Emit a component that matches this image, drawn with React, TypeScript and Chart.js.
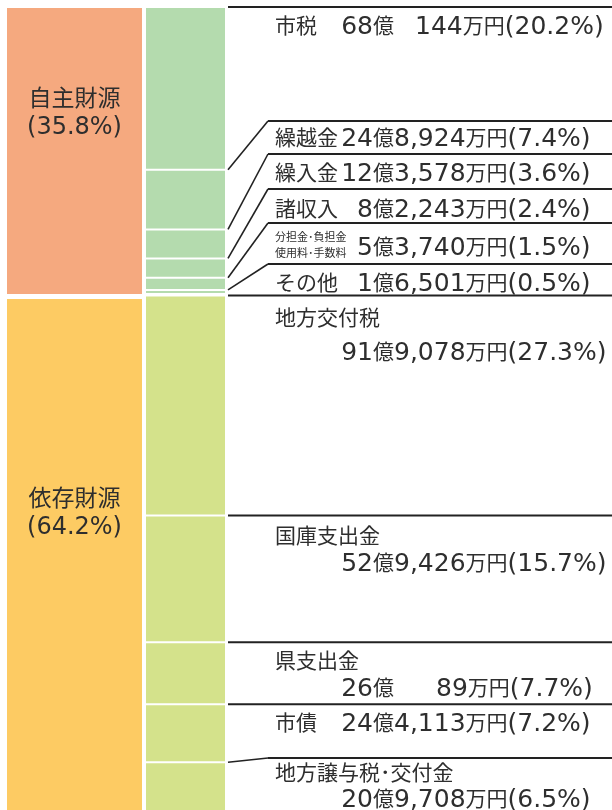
import React, { useEffect, useRef } from 'react';
import { Chart, registerables } from 'chart.js';

Chart.register(...registerables);

// ---------- data ----------
const COLUMNS = ['財源区分', '内訳'];
const GROUP_NAMES = ['自主財源', '依存財源'];
const GROUP_PCT = [35.8, 64.2];

const ITEM_NAMES = [
  '市税',
  '繰越金',
  '繰入金',
  '諸収入',
  '分担金･負担金\n使用料･手数料',
  'その他',
  '地方交付税',
  '国庫支出金',
  '県支出金',
  '市債',
  '地方譲与税･交付金',
];
const ITEM_GROUP = [0, 0, 0, 0, 0, 0, 1, 1, 1, 1, 1];
const ITEM_AMOUNT = [
  '68億　144万円',
  '24億8,924万円',
  '12億3,578万円',
  '8億2,243万円',
  '5億3,740万円',
  '1億6,501万円',
  '91億9,078万円',
  '52億9,426万円',
  '26億　　89万円',
  '24億4,113万円',
  '20億9,708万円',
];
const ITEM_PCT = [20.2, 7.4, 3.6, 2.4, 1.5, 0.5, 27.3, 15.7, 7.7, 7.2, 6.5];

// ---------- layout / style ----------
const GROUP_COLORS = ['#F5A97F', '#FDCB63'];
const ITEM_COLORS = ['#B4DBAE', '#D4E28B'];
const LABEL_LINE_Y: (number | null)[] = [null, 121, 154, 189, 223, 264, null, null, null, null, 758];
const NAME_DY = [18, 16, 18, 19, 23, 18, 21, 19, 18, 18, 14];
const AMOUNT_DY: (number | null)[] = [null, null, null, null, null, null, 55, 46, 45, null, 40];
const GROUP_LABEL_VAL = [11.2, 60.8];
const TEXT_COLOR = '#2e2e2e';
const LINE_COLOR = '#222';
const CJK_FONT = '"Noto Sans CJK JP"';
const LAT_FONT = '"DejaVu Sans"';

function splitRuns(t: string) {
  const out: { cjk: boolean; s: string }[] = [];
  for (const ch of t) {
    const cjk = (ch.codePointAt(0) as number) >= 0x2e80;
    const last = out[out.length - 1];
    if (last && last.cjk === cjk) last.s += ch;
    else out.push({ cjk, s: ch });
  }
  return out;
}

function drawMixed(
  ctx: CanvasRenderingContext2D,
  text: string,
  x: number,
  cy: number,
  cjkPx: number,
  latPx: number,
  align: 'left' | 'right' | 'center'
) {
  const runs = splitRuns(text);
  const fontOf = (cjk: boolean) => (cjk ? `${cjkPx}px ${CJK_FONT}` : `${latPx}px ${LAT_FONT}`);
  const widths = runs.map((r) => {
    ctx.font = fontOf(r.cjk);
    return ctx.measureText(r.s).width;
  });
  const total = widths.reduce((a, b) => a + b, 0);
  let cx = align === 'left' ? x : align === 'right' ? x - total : x - total / 2;
  ctx.textAlign = 'left';
  ctx.textBaseline = 'alphabetic';
  runs.forEach((r, i) => {
    ctx.font = fontOf(r.cjk);
    const by = r.cjk ? cy + 0.38 * cjkPx : cy + 0.365 * latPx;
    ctx.fillText(r.s, cx, by);
    cx += widths[i];
  });
}

const groupStart = GROUP_PCT.map((_, g) => GROUP_PCT.slice(0, g).reduce((a, b) => a + b, 0));
const itemStart = ITEM_PCT.map(
  (_, i) =>
    groupStart[ITEM_GROUP[i]] +
    ITEM_PCT.slice(0, i)
      .filter((__, j) => ITEM_GROUP[j] === ITEM_GROUP[i])
      .reduce((a, b) => a + b, 0)
);

const labelPlugin = {
  id: 'labels',
  afterDatasetsDraw(chart: any) {
    const ctx: CanvasRenderingContext2D = chart.ctx;
    const y = chart.scales.y;
    const x = chart.scales.x;
    ctx.save();
    ctx.fillStyle = TEXT_COLOR;

    // group labels
    const gx = x.getPixelForValue(0);
    GROUP_NAMES.forEach((name, g) => {
      const cy = y.getPixelForValue(GROUP_LABEL_VAL[g]);
      drawMixed(ctx, name, gx, cy, 23, 24, 'center');
      drawMixed(ctx, `(${GROUP_PCT[g].toFixed(1)}%)`, gx, cy + 28, 23, 24, 'center');
    });

    // item leaders + labels
    const x0 = 228;
    const x1 = 268;
    const xEnd = chart.width;
    const nameX = 275;
    const okuX = 373;
    ITEM_NAMES.forEach((name, i) => {
      const segTop = y.getPixelForValue(itemStart[i]);
      const lineY = LABEL_LINE_Y[i] == null ? segTop : (LABEL_LINE_Y[i] as number);
      ctx.strokeStyle = LINE_COLOR;
      if (LABEL_LINE_Y[i] == null) {
        ctx.lineWidth = 2;
        ctx.beginPath();
        ctx.moveTo(x0, segTop);
        ctx.lineTo(xEnd, segTop);
        ctx.stroke();
      } else {
        ctx.lineWidth = 1.6;
        ctx.beginPath();
        ctx.moveTo(x0, segTop);
        ctx.lineTo(x1, lineY);
        ctx.stroke();
        ctx.lineWidth = 2;
        ctx.beginPath();
        ctx.moveTo(x1, lineY);
        ctx.lineTo(xEnd, lineY);
        ctx.stroke();
      }

      const rowY = lineY + NAME_DY[i];
      if (name.includes('\n')) {
        const parts = name.split('\n');
        drawMixed(ctx, parts[0], nameX, lineY + 14, 11, 11, 'left');
        drawMixed(ctx, parts[1], nameX, lineY + 30, 11, 11, 'left');
      } else {
        drawMixed(ctx, name, nameX, rowY, 21, 25, 'left');
      }
      const amtY = AMOUNT_DY[i] == null ? rowY : lineY + (AMOUNT_DY[i] as number);
      const amt = ITEM_AMOUNT[i];
      const k = amt.indexOf('億');
      const pre = amt.slice(0, k);
      const post = amt.slice(k) + `(${ITEM_PCT[i].toFixed(1)}%)`;
      drawMixed(ctx, pre, okuX, amtY, 21, 25, 'right');
      drawMixed(ctx, post, okuX, amtY, 21, 25, 'left');
    });
    ctx.restore();
  },
};

export default function App() {
  const ref = useRef<HTMLCanvasElement>(null);
  useEffect(() => {
    if (!ref.current) return;
    const datasets: any[] = [];
    GROUP_NAMES.forEach((name, g) => {
      datasets.push({
        label: name,
        data: [[groupStart[g], groupStart[g] + GROUP_PCT[g]], null],
        backgroundColor: GROUP_COLORS[g],
        borderColor: '#ffffff',
        borderWidth: g === 0 ? { top: 1, bottom: 1.5, left: 0, right: 0 } : { top: 3.5, bottom: 0, left: 0, right: 0 },
        borderSkipped: false,
        barThickness: 135,
        grouped: false,
        inflateAmount: 0,
        clip: false,
      });
    });
    ITEM_NAMES.forEach((name, i) => {
      datasets.push({
        label: name,
        data: [null, [itemStart[i], itemStart[i] + ITEM_PCT[i]]],
        backgroundColor: ITEM_COLORS[ITEM_GROUP[i]],
        borderColor: '#ffffff',
        borderWidth: { top: 1, bottom: 1, left: 0, right: 0 },
        borderSkipped: false,
        barThickness: 79,
        grouped: false,
        inflateAmount: 0,
        clip: false,
      });
    });
    const chart = new Chart(ref.current, {
      type: 'bar',
      data: { labels: COLUMNS, datasets },
      options: {
        responsive: false,
        animation: false,
        events: [],
        layout: { padding: { left: 19, right: 371, top: 7, bottom: 3 } },
        scales: {
          x: { type: 'category', display: false, offset: true, grid: { display: false } },
          y: { type: 'linear', min: 0, max: 100, reverse: true, display: false },
        },
        plugins: { legend: { display: false }, tooltip: { enabled: false } },
      },
      plugins: [labelPlugin],
    } as any);
    return () => chart.destroy();
  }, []);
  return (
    <div
      style={{
        position: 'fixed',
        left: 0,
        top: 0,
        width: 612,
        height: 810,
        overflow: 'hidden',
        background: '#fff',
      }}
    >
      <canvas ref={ref} width={612} height={816} style={{ width: 612, height: 816, display: 'block' }} />
    </div>
  );
}
